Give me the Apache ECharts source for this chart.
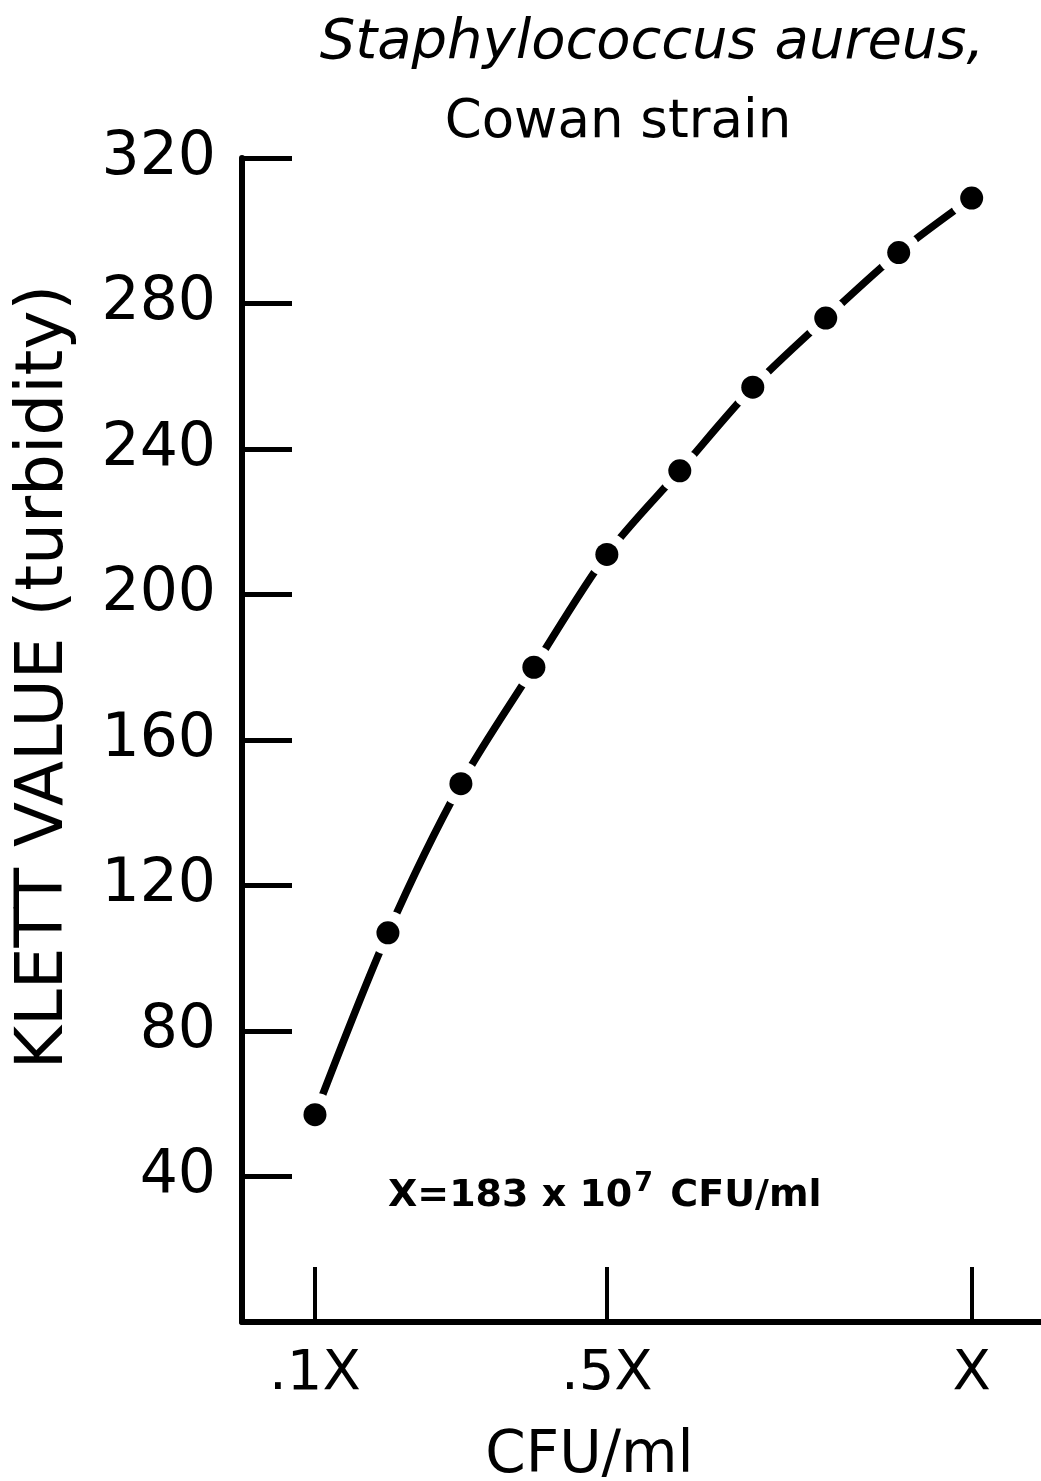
<!DOCTYPE html>
<html>
<head>
<meta charset="utf-8">
<script src="https://cdn.jsdelivr.net/npm/echarts@6/dist/echarts.min.js"></script>
<style>
  html, body { margin: 0; padding: 0; background: #fff; }
  #main { width: 1041px; height: 1481px; }
</style>
</head>
<body>
<div id="main"></div>
<script>
// fraction of X (X = 183 x 10^7 CFU/ml)
var doses = [0.1, 0.2, 0.3, 0.4, 0.5, 0.6, 0.7, 0.8, 0.9, 1.0];
// Klett value (turbidity)
var klett = [57, 107, 148, 180, 211, 234, 257, 276, 294, 309];
var xTickValues = [0.1, 0.5, 1.0];
var xTickLabels = { 0.1: '.1X', 0.5: '.5X', 1: 'X' };

var chart = echarts.init(document.getElementById('main'));
var font = 'DejaVu Sans';
var points = doses.map(function (d, i) { return [d, klett[i]]; });

var option = {
  backgroundColor: '#fff',
  animation: false,
  title: [
    {
      text: 'Staphylococcus aureus,',
      left: 647, top: 10, textAlign: 'center',
      textStyle: { fontFamily: font, fontStyle: 'italic', fontWeight: 'normal', fontSize: 56, color: '#000' }
    },
    {
      text: 'Cowan strain',
      left: 613, top: 92, textAlign: 'center',
      textStyle: { fontFamily: font, fontWeight: 'normal', fontSize: 53, color: '#000' }
    }
  ],
  grid: { left: 242, right: 0, top: 158, bottom: 159, outerBoundsMode: 'none' },
  xAxis: {
    type: 'value',
    min: 0, max: 1.095,
    name: 'CFU/ml',
    nameLocation: 'middle',
    nameGap: 106,
    nameTextStyle: { fontFamily: font, fontSize: 58, color: '#000', padding: [0, 104, 0, 0] },
    axisLine: { show: true, lineStyle: { color: '#000', width: 6 } },
    axisTick: { show: true, inside: true, length: 55, customValues: xTickValues, lineStyle: { color: '#000', width: 4 } },
    axisLabel: {
      customValues: xTickValues,
      margin: 24,
      fontFamily: font, fontSize: 56, color: '#000',
      formatter: function (v) { return xTickLabels[Math.round(v * 10) / 10] || ''; }
    },
    splitLine: { show: false }
  },
  yAxis: {
    type: 'value',
    min: 0, max: 320, interval: 40,
    name: 'KLETT VALUE (turbidity)',
    nameLocation: 'middle',
    nameGap: 164,
    nameTextStyle: { fontFamily: font, fontSize: 66, color: '#000', padding: [0, 0, 0, 126] },
    axisLine: { show: true, lineStyle: { color: '#000', width: 6 } },
    axisTick: { show: true, inside: true, length: 50, lineStyle: { color: '#000', width: 5 } },
    axisLabel: {
      margin: 26,
      fontFamily: font, fontSize: 60, color: '#000',
      formatter: function (v) { return v === 0 ? '' : String(v); }
    },
    splitLine: { show: false }
  },
  series: [
    {
      type: 'line',
      data: points,
      smooth: 0.3,
      showSymbol: false,
      z: 2,
      lineStyle: { color: '#000', width: 7.5, cap: 'round' }
    },
    {
      // white halo that breaks the curve around each point
      type: 'scatter',
      data: points,
      symbol: 'circle',
      symbolSize: 44,
      z: 3,
      itemStyle: { color: '#fff', opacity: 1 }
    },
    {
      type: 'scatter',
      data: points,
      symbol: 'circle',
      symbolSize: 23,
      z: 4,
      itemStyle: { color: '#000', opacity: 1 }
    }
  ],
  graphic: [
    {
      type: 'text',
      left: 388, top: 1170,
      style: {
        text: '{a|X=183 x 10}{s|7}{a| CFU/ml}',
        rich: {
          a: { fontFamily: font, fontSize: 38, fontWeight: 'bold', fill: '#000', verticalAlign: 'bottom' },
          s: { fontFamily: font, fontSize: 27, fontWeight: 'bold', fill: '#000', verticalAlign: 'top', padding: [0, 4, 18, 2] }
        }
      }
    }
  ]
};

chart.setOption(option);
</script>
</body>
</html>
